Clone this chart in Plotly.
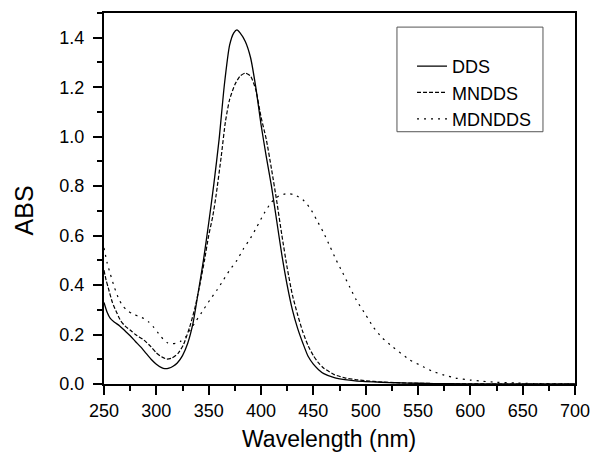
import plotly.graph_objects as go

# DDS (solid)
dds_wl = [250, 253, 256, 260, 265, 270, 275, 280, 285, 290, 295, 300, 305, 308, 312, 316, 320, 325, 330, 335,
          340, 345, 350, 355, 360, 365, 370, 374, 377, 380, 385, 390, 395, 400, 405, 410, 415, 420, 425, 430,
          435, 440, 445, 450, 455, 460, 470, 480, 490, 500, 515, 530, 550, 580, 620, 700]
dds_abs = [0.33, 0.29, 0.265, 0.25, 0.235, 0.215, 0.195, 0.172, 0.15, 0.125, 0.10, 0.08, 0.066, 0.062, 0.064, 0.072, 0.085, 0.115, 0.165, 0.245,
           0.37, 0.50, 0.65, 0.81, 0.99, 1.21, 1.37, 1.42, 1.432, 1.42, 1.385, 1.32, 1.2, 1.05, 0.92, 0.80, 0.66, 0.52, 0.40, 0.30,
           0.225, 0.165, 0.112, 0.08, 0.058, 0.042, 0.026, 0.018, 0.013, 0.010, 0.007, 0.005, 0.003, 0.001, 0.0, 0.0]

# MNDDS (dashed)
mndds_wl = [250, 252, 254, 258, 262, 266, 270, 275, 280, 288, 295, 300, 305, 310, 315, 321, 326, 332, 337, 342,
            346, 350, 354, 357, 362, 366, 370, 375, 380, 385, 390, 395, 400, 405, 410, 415, 420, 425, 430, 435,
            440, 445, 450, 455, 460, 470, 480, 490, 500, 515, 530, 550, 580, 620, 700]
mndds_abs = [0.46, 0.42, 0.39, 0.33, 0.29, 0.255, 0.235, 0.218, 0.2, 0.178, 0.15, 0.126, 0.11, 0.101, 0.105, 0.125, 0.16, 0.232, 0.31, 0.41,
             0.50, 0.60, 0.68, 0.76, 0.92, 1.06, 1.15, 1.21, 1.245, 1.257, 1.245, 1.19, 1.08, 0.99, 0.87, 0.74, 0.60, 0.47, 0.36, 0.28,
             0.21, 0.155, 0.115, 0.085, 0.064, 0.038, 0.025, 0.018, 0.013, 0.008, 0.005, 0.003, 0.001, 0.0, 0.0]

# MDNDDS (dotted)
mdndds_wl = [250, 253, 256, 260, 264, 268, 272, 278, 284, 288, 293, 297, 302, 307, 311, 315, 319, 323, 328, 332,
             338, 345, 352, 358, 364, 370, 377, 383, 390, 396, 403, 410, 417, 425, 432, 440, 447, 453, 460, 466,
             472, 478, 485, 491, 500, 507, 515, 526, 542, 555, 564, 575, 586, 600, 612, 625, 644, 660, 680, 700]
mdndds_abs = [0.55, 0.49, 0.445, 0.39, 0.345, 0.315, 0.298, 0.282, 0.272, 0.265, 0.25, 0.232, 0.205, 0.179, 0.166, 0.163, 0.165, 0.172, 0.19, 0.216,
              0.255, 0.30, 0.345, 0.38, 0.42, 0.46, 0.50, 0.545, 0.59, 0.635, 0.69, 0.735, 0.76, 0.77, 0.765, 0.745, 0.71, 0.665, 0.61, 0.555,
              0.50, 0.45, 0.39, 0.34, 0.28, 0.232, 0.19, 0.15, 0.098, 0.07, 0.051, 0.036, 0.024, 0.016, 0.011, 0.007, 0.004, 0.002, 0.001, 0.0]

series_names = ["DDS", "MNDDS", "MDNDDS"]
x_ticks = [250, 300, 350, 400, 450, 500, 550, 600, 650, 700]
y_ticks = [0.0, 0.2, 0.4, 0.6, 0.8, 1.0, 1.2, 1.4]
x_title = "Wavelength (nm)"
y_title = "ABS"

FONT = "Liberation Sans, Arial, sans-serif"

fig = go.Figure()
fig.add_trace(go.Scatter(x=dds_wl, y=dds_abs, mode="lines", name=series_names[0],
                         line=dict(color="black", width=1.3, shape="spline", smoothing=0.6)))
fig.add_trace(go.Scatter(x=mndds_wl, y=mndds_abs, mode="lines", name=series_names[1],
                         line=dict(color="black", width=1.2, dash="4px,2px", shape="spline", smoothing=0.6)))
fig.add_trace(go.Scatter(x=mdndds_wl, y=mdndds_abs, mode="lines", name=series_names[2],
                         line=dict(color="black", width=1.2, dash="2px,5px", shape="spline", smoothing=0.6)))

axis_common = dict(
    showline=True, linecolor="black", linewidth=2, mirror=True,
    ticks="outside", tickcolor="black", tickwidth=1.5, ticklen=9,
    showgrid=False, zeroline=False, automargin=False,
    tickfont=dict(family=FONT, size=18, color="black"),
)

fig.update_xaxes(range=[250, 700], tickvals=x_ticks, ticktext=[str(v) for v in x_ticks],
                 minor=dict(ticks="outside", ticklen=5, tickwidth=1.5, tickcolor="black", dtick=25, tick0=250),
                 **axis_common)
fig.update_yaxes(range=[0, 1.5], tickvals=y_ticks, ticktext=[f"{v:.1f}" for v in y_ticks],
                 minor=dict(ticks="outside", ticklen=5, tickwidth=1.5, tickcolor="black", dtick=0.1, tick0=0),
                 ticklabelstandoff=5,
                 **axis_common)

fig.add_shape(type="rect", xref="paper", yref="paper", x0=0.622, x1=0.932, y0=0.680, y1=0.962,
              line=dict(color="#555555", width=1), fillcolor="rgba(0,0,0,0)")

fig.add_annotation(text=x_title, xref="paper", yref="paper", x=0.477, y=-0.147,
                   xanchor="center", yanchor="middle", showarrow=False,
                   font=dict(family=FONT, size=23, color="black"))
fig.add_annotation(text=y_title, xref="paper", yref="paper", x=-0.169, y=0.469, textangle=-90,
                   xanchor="center", yanchor="middle", showarrow=False,
                   font=dict(family=FONT, size=25, color="black"))

fig.update_layout(
    width=594, height=453,
    margin=dict(l=104, r=19, t=13, b=69, autoexpand=False),
    paper_bgcolor="white", plot_bgcolor="white",
    font=dict(family=FONT, color="black"),
    legend=dict(x=0.654, y=0.906, xanchor="left", yanchor="top",
                bgcolor="rgba(0,0,0,0)", borderwidth=0,
                font=dict(family=FONT, size=18, color="black"),
                itemwidth=30, tracegroupgap=0),
    showlegend=True,
)

fig.write_html("out.html", config={"displayModeBar": False},
               post_script="document.body.style.margin='0';")
